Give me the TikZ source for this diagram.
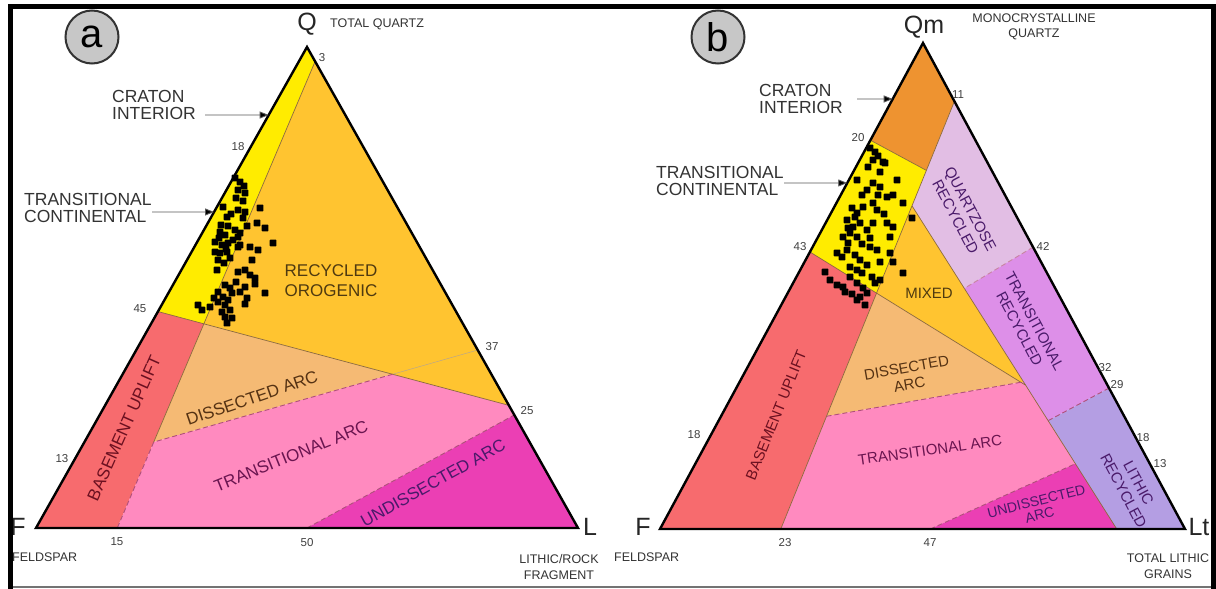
\documentclass[tikz,border=0pt]{standalone}
\usepackage{fontspec}
\setmainfont{Liberation Sans}
\usetikzlibrary{arrows.meta,calc}
\definecolor{cYel}{HTML}{FFEC00}
\definecolor{cOrg}{HTML}{FFC430}
\definecolor{cRed}{HTML}{F76B6E}
\definecolor{cDis}{HTML}{F5BA74}
\definecolor{cTra}{HTML}{FF8ABF}
\definecolor{cUnd}{HTML}{EB3FB4}
\definecolor{cCra}{HTML}{EE9330}
\definecolor{cQtz}{HTML}{E2BEE4}
\definecolor{cTrr}{HTML}{DD8FE8}
\definecolor{cLit}{HTML}{B49EE3}
\definecolor{bCol}{HTML}{8C6A3C}
\definecolor{dCol}{HTML}{B0507A}
\definecolor{tBrn}{HTML}{4F3A10}
\definecolor{tRed}{HTML}{6B1020}
\definecolor{tPnk}{HTML}{6A1550}
\definecolor{tPur}{HTML}{4A1A6A}
\definecolor{tGry}{HTML}{333333}
\begin{document}
\begin{tikzpicture}[x=1pt,y=-1pt,
  tri/.style={draw=black,line width=2.4pt,line join=miter},
  bline/.style={draw=bCol,line width=0.7pt},
  fline/.style={draw=bCol!60,line width=0.5pt},
  dline/.style={draw=dCol,line width=0.9pt,dash pattern=on 5pt off 3pt},
  num/.style={font=\fontsize{11.5}{12}\selectfont,text=black!75,inner sep=0pt},
  small/.style={font=\fontsize{12.5}{15.5}\selectfont,text=black!80,inner sep=0pt,align=center},
  vtx/.style={font=\fontsize{25}{25}\selectfont,text=black!85,inner sep=0pt},
  call/.style={font=\fontsize{17.5}{16.5}\selectfont,text=tGry,inner sep=0pt,align=left,anchor=west},
  rega/.style={font=\fontsize{17}{20}\selectfont,inner sep=0pt,align=center},
  regb/.style={font=\fontsize{15}{17}\selectfont,inner sep=0pt,align=center},
  arr/.style={draw=black!65,line width=0.9pt,-{Triangle[length=9pt,width=7pt,fill=black]}},
  badge/.style={circle,draw=black!80,line width=2pt,fill=black!22,minimum size=53pt,inner sep=0pt,font=\fontsize{40}{40}\selectfont}]
\useasboundingbox (0,0) rectangle (1216,589);
\fill[white] (0,0) rectangle (1216,589);

% ================= panel a =================
\coordinate (Qa) at (307,47);
\coordinate (Fa) at (36,528);
\coordinate (La) at (578,528);
\coordinate (R3) at ($(Qa)!0.03!(La)$);
\coordinate (R25) at ($(Qa)!0.745!(La)$);
\coordinate (R37) at ($(Qa)!0.63!(La)$);
\coordinate (R23) at ($(Qa)!0.765!(La)$);
\coordinate (L45) at ($(Qa)!0.55!(Fa)$);
\coordinate (L13) at ($(Qa)!0.87!(Fa)$);
\coordinate (B15) at ($(Fa)!0.15!(La)$);
\coordinate (B50) at ($(Fa)!0.5!(La)$);
\coordinate (J1) at (intersection of R3--B15 and L45--R25);
\coordinate (J2) at (intersection of R3--B15 and R37--L13);
\coordinate (J3) at (intersection of L45--R25 and R37--L13);

\fill[cYel] (Qa) -- (L45) -- (J1) -- (R3) -- cycle;
\fill[cOrg] (R3) -- (R25) -- (J1) -- cycle;
\fill[cRed] (L45) -- (Fa) -- (B15) -- (J1) -- cycle;
\fill[cDis] (J1) -- (J3) -- (J2) -- cycle;
\fill[cTra] (J2) -- (J3) -- (R25) -- (R23) -- (B50) -- (B15) -- cycle;
\fill[cUnd] (B50) -- (La) -- (R23) -- cycle;

\draw[bline] (R3) -- (J2);
\draw[dline] (J2) -- (B15);
\draw[bline] (L45) -- (R25);
\draw[fline] (R37) -- (J3);
\draw[dline] (J3) -- (J2);
\draw[dline] (B50) -- (R23);

\foreach \x/\y in {235/178,240/182,244/186,238/190,245/193,236/198,243/201,
  223/207,238/210,245/212,260/208,227/217,231/214,243/218,257/223,265/228,
  220/232,225/235,235/230,240/233,228/226,215/242,222/245,228/243,238/237,240/245,273/243,
  215/252,220/253,227/252,230/258,238/247,218/260,224/263,250/247,258/250,252/260,
  217/270,238/272,245/270,250/275,255/278,255/284,245/287,265/293,
  225/285,230/288,218/292,223/297,232/293,228/300,247/298,245/304,
  198/305,202/310,210/307,218/302,225/305,222/312,230/310,225/317,232/318,227/323,
  219/238,226/249,233/240,221/225,247/226,236/282,240/292,214/298}
  \fill[black,rounded corners=0.8pt] (\x-3.4,\y-3.4) rectangle (\x+3.4,\y+3.4);

\draw[tri] (Qa) -- (Fa) -- (La) -- cycle;

\node[badge] (bga) at (92,37) {a};
\node[vtx] (vQa) at (307,24) {Q};
\node[small,anchor=west] (tqa) at (330,24) {TOTAL QUARTZ};
\node[vtx] (vFa) at (18,527) {F};
\node[vtx] (vLa) at (590,527) {L};
\node[small,anchor=west] (fsa) at (12,557) {FELDSPAR};
\node[small] (lra) at (559,567) {LITHIC/ROCK\\FRAGMENT};
\node[num] (n3) at (322,58) {3};
\node[num] (n18a) at (238,147) {18};
\node[num] (n45) at (140,309) {45};
\node[num] (n13a) at (62,459) {13};
\node[num] (n37) at (492,347) {37};
\node[num] (n25) at (527,411) {25};
\node[num] (n15) at (117,542) {15};
\node[num] (n50) at (307,543) {50};

\node[call] (cia) at (112,105) {CRATON\\INTERIOR};
\coordinate (cias) at (205,115);
\coordinate (ciae) at ($(Qa)!0.1414!(Fa)$);
\draw[arr] (cias) -- (ciae);
\node[call] (tca) at (24,208) {TRANSITIONAL\\CONTINENTAL};
\coordinate (tcas) at (152,212);
\coordinate (tcae) at ($(Qa)!0.343!(Fa)$);
\draw[arr] (tcas) -- (tcae);

\node[rega,text=tBrn] (roa) at (331,281) {RECYCLED\\OROGENIC};
\node[rega,text=tRed,rotate=66] (bua) at (124,428) {BASEMENT UPLIFT};
\node[rega,text=tBrn!80!tRed,rotate=19] (daa) at (252,398) {DISSECTED ARC};
\node[rega,text=tPnk,rotate=22] (taa) at (291,456) {TRANSITIONAL ARC};
\node[rega,text=tPur,rotate=29] (uaa) at (433,483) {UNDISSECTED ARC};

% ================= panel b =================
\coordinate (Qb) at (923,43);
\coordinate (Fb) at (660,529);
\coordinate (Lb) at (1185,529);
\coordinate (A20) at ($(Qb)!0.20!(Fb)$);
\coordinate (A43) at ($(Qb)!0.43!(Fb)$);
\coordinate (A18) at ($(Qb)!0.81!(Fb)$);
\coordinate (B11) at ($(Qb)!0.12!(Lb)$);
\coordinate (B42) at ($(Qb)!0.42!(Lb)$);
\coordinate (B32) at ($(Qb)!0.67!(Lb)$);
\coordinate (B29) at ($(Qb)!0.71!(Lb)$);
\coordinate (B18) at ($(Qb)!0.81!(Lb)$);
\coordinate (B13) at ($(Qb)!0.86!(Lb)$);
\coordinate (C23) at ($(Fb)!0.23!(Lb)$);
\coordinate (C47) at ($(Fb)!0.515!(Lb)$);
\coordinate (C87) at ($(Fb)!0.87!(Lb)$);
\coordinate (Xl) at (1000,446.3);
\coordinate (Yq) at (933,307);
\coordinate (Zc) at (970.4,194.2);
\coordinate (K1) at (intersection of B11--C23 and A20--Zc);
\coordinate (K2) at (intersection of A20--C87 and B42--Yq);
\coordinate (K3) at (intersection of A20--C87 and B11--C23);
\coordinate (K4) at (intersection of A20--C87 and B29--Xl);
\coordinate (K5) at (intersection of A20--C87 and A43--B13);
\coordinate (K6) at (intersection of B11--C23 and A43--B13);
\coordinate (K7) at (intersection of B11--C23 and A18--B32);
\coordinate (K8) at (intersection of A20--C87 and C47--B18);
\coordinate (K9) at (intersection of A20--C87 and A18--B32);

\fill[cCra] (Qb) -- (A20) -- (K1) -- (B11) -- cycle;
\fill[cYel] (A20) -- (A43) -- (K6) -- (K1) -- cycle;
\fill[cQtz] (B11) -- (K3) -- (K2) -- (B42) -- cycle;
\fill[cOrg] (K3) -- (K6) -- (K5) -- cycle;
\fill[cTrr] (K2) -- (B42) -- (B29) -- (K4) -- cycle;
\fill[cLit] (K4) -- (B29) -- (Lb) -- (C87) -- cycle;
\fill[cRed] (A43) -- (Fb) -- (C23) -- (K6) -- cycle;
\fill[cDis] (K6) -- (K5) -- (K9) -- (K7) -- cycle;
\fill[cTra] (C23) -- (C47) -- (K8) -- (K9) -- (K7) -- cycle;
\fill[cUnd] (C47) -- (C87) -- (K8) -- cycle;

\draw[bline] (B11) -- (C23);
\draw[bline] (K3) -- (C87);
\draw[bline] (A20) -- (K1);
\draw[bline] (A43) -- (K5);
\draw[dline] (K7) -- (K9);
\draw[dline] (C47) -- (K8);
\draw[dline] (B29) -- (K4);
\draw[dline,draw=dCol!70] (B42) -- (K2);

\foreach \x/\y in {870/148,875/152,878/156,883/162,873/160,868/167,880/172,885/163,897/180,
  857/180,873/183,880/187,862/195,867/190,878/195,887/197,893/195,903/203,912/218,
  852/208,857/213,863/207,873/203,877/210,847/220,853/227,860/223,850/233,857/237,867/230,
  873/223,887/223,893/227,843/237,848/243,870/247,877/250,890/237,837/253,842/257,847/250,
  890/253,893/262,880/262,903/273,850/267,857/270,862/273,867/265,872/277,880/280,
  825/272,830/280,837/285,843/287,850/277,857/283,863/288,860/297,867/293,875/283,
  857/300,865/305,855/217,862/244,855/255,870/238,848/228,884/214,860/260,845/292,852/294}
  \fill[black,rounded corners=0.8pt] (\x-3.4,\y-3.4) rectangle (\x+3.4,\y+3.4);

\draw[tri] (Qb) -- (Fb) -- (Lb) -- cycle;

\node[badge] (bgb) at (718,37) {b};
\node[vtx] (vQb) at (924,27) {Qm};
\node[small] (mqb) at (1034,27) {MONOCRYSTALLINE\\QUARTZ};
\node[vtx] (vFb) at (643,527) {F};
\node[vtx] (vLb) at (1199,527) {Lt};
\node[small,anchor=west] (fsb) at (614,557) {FELDSPAR};
\node[small] (tlb) at (1168,566) {TOTAL LITHIC\\GRAINS};
\node[num] (n11) at (958,95) {11};
\node[num] (n20) at (858,138) {20};
\node[num] (n43) at (800,247) {43};
\node[num] (n18b) at (694,435) {18};
\node[num] (n42) at (1043,246) {42};
\node[num] (n32) at (1105,368) {32};
\node[num] (n29) at (1117,385) {29};
\node[num] (n18c) at (1143,438) {18};
\node[num] (n13b) at (1160,464) {13};
\node[num] (n23) at (785,543) {23};
\node[num] (n47) at (930,543) {47};

\node[call] (cib) at (759,99) {CRATON\\INTERIOR};
\coordinate (cibs) at (857,99);
\coordinate (cibe) at ($(Qb)!0.1152!(Fb)$);
\draw[arr] (cibs) -- (cibe);
\node[call] (tcb) at (656,181) {TRANSITIONAL\\CONTINENTAL};
\coordinate (tcbs) at (784,183);
\coordinate (tcbe) at ($(Qb)!0.288!(Fb)$);
\draw[arr] (tcbs) -- (tcbe);

\node[regb,text=tPur,rotate=-62] (qrb) at (963,213) {QUARTZOSE\\RECYCLED};
\node[regb,text=tPur,rotate=-62] (trb) at (1027,325) {TRANSITIONAL\\RECYCLED};
\node[regb,text=tPur,rotate=-62] (lrb) at (1131,487) {LITHIC\\RECYCLED};
\node[regb,text=tBrn] (mxb) at (929,293) {MIXED};
\node[regb,text=tBrn!80!tRed,rotate=10] (dab) at (908,376) {DISSECTED\\ARC};
\node[regb,text=tPnk,rotate=8] (tab) at (930,450) {TRANSITIONAL ARC};
\node[regb,text=tPur,rotate=14,font=\fontsize{14}{14}\selectfont] (uab) at (1038,508) {UNDISSECTED\\ARC};
\node[regb,text=tRed,rotate=68] (bub) at (776,415) {BASEMENT UPLIFT};

% ================= frame =================
\draw[black!55,line width=1.5pt] (10,587) -- (1213,587);
\draw[black,line width=4.4pt] (10.5,589) -- (10.5,6.5) -- (1213.5,6.5) -- (1213.5,589);
\end{tikzpicture}
\end{document}
